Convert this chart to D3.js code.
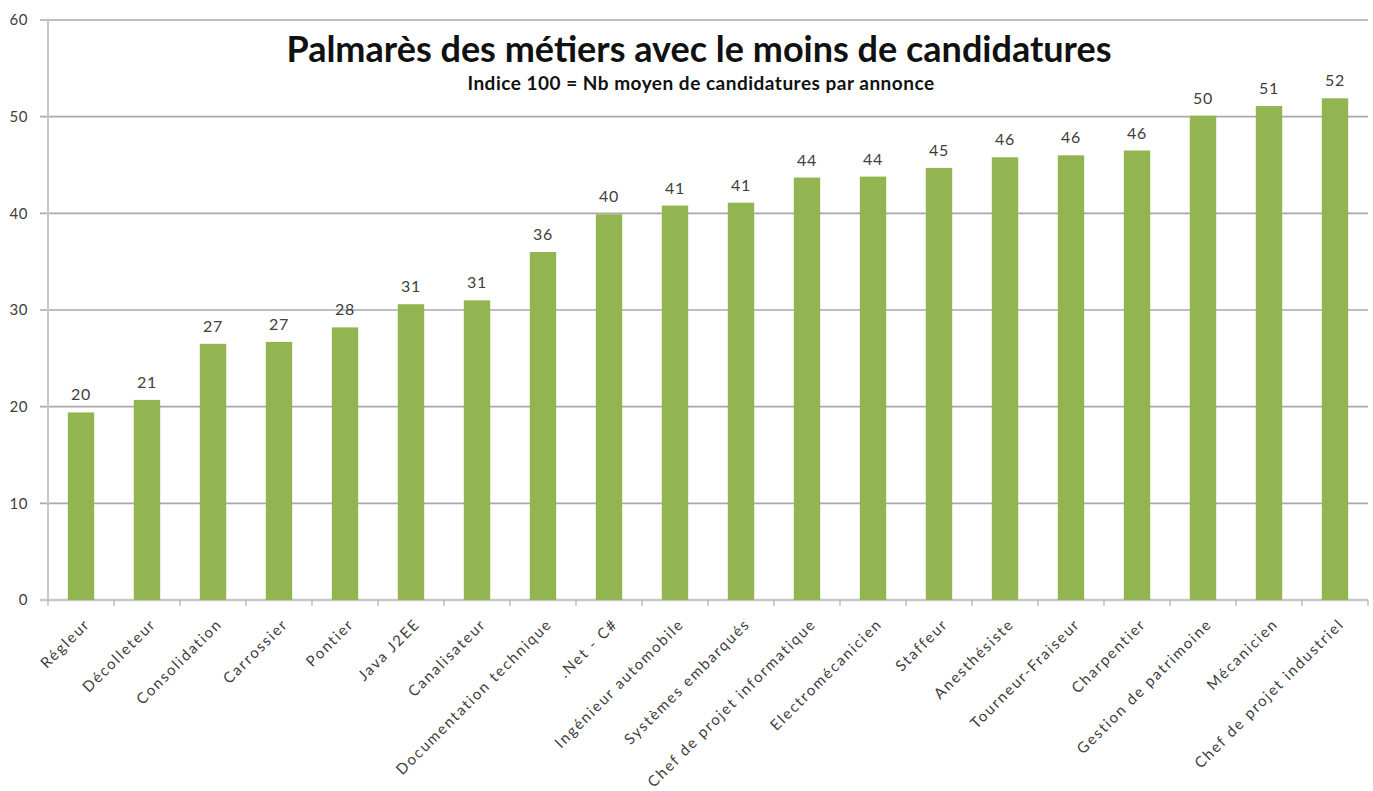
<!DOCTYPE html>
<html>
<head>
<meta charset="utf-8">
<script src="https://cdn.jsdelivr.net/npm/d3@7"></script>
<style>
  html, body { margin: 0; padding: 0; background: #fff; }
  svg { display: block; }
</style>
</head>
<body>
<svg id="chart" width="1373" height="791"></svg>
<script>
const categories = ["Régleur", "Décolleteur", "Consolidation", "Carrossier", "Pontier", "Java J2EE", "Canalisateur", "Documentation technique", ".Net - C#", "Ingénieur automobile", "Systèmes embarqués", "Chef de projet informatique", "Electromécanicien", "Staffeur", "Anesthésiste", "Tourneur-Fraiseur", "Charpentier", "Gestion de patrimoine", "Mécanicien", "Chef de projet industriel"];
const values = [19.4, 20.7, 26.5, 26.7, 28.2, 30.6, 31.0, 36.0, 39.9, 40.8, 41.1, 43.7, 43.8, 44.7, 45.8, 46.0, 46.5, 50.1, 51.1, 51.9];
const valueLabels = ["20", "21", "27", "27", "28", "31", "31", "36", "40", "41", "41", "44", "44", "45", "46", "46", "46", "50", "51", "52"];
const yTicks = [0, 10, 20, 30, 40, 50, 60];
const title = "Palmarès des métiers avec le moins de candidatures";
const subtitle = "Indice 100 = Nb moyen de candidatures par annonce";

(function () {
const svg = d3.select("#chart");
const pLeft = 48, pRight = 1368, pTop = 20, pBottom = 600;
const font = "Lato, 'Open Sans', sans-serif";

const x = d3.scaleBand().domain(categories).range([pLeft, pRight]).paddingInner(0.6).paddingOuter(0.3);
const y = d3.scaleLinear().domain([0, 60]).range([pBottom, pTop]);

svg.append("g").selectAll("line").data(yTicks).join("line")
  .attr("x1", pLeft - 8).attr("x2", pRight)
  .attr("y1", d => y(d)).attr("y2", d => y(d))
  .attr("stroke", d => d === 0 ? "#c8c8c8" : "#a9a9a9")
  .attr("stroke-width", d => d === 0 ? 2.5 : 1.6);

svg.append("line").attr("x1", pLeft).attr("x2", pLeft).attr("y1", y(60)).attr("y2", pBottom)
  .attr("stroke", "#c8c8c8").attr("stroke-width", 2);

svg.append("g").selectAll("text").data(yTicks).join("text")
  .attr("x", 28).attr("y", d => y(d)).attr("dy", "0.35em")
  .attr("text-anchor", "end")
  .attr("font-family", font).attr("font-size", 15).attr("letter-spacing", 0.5)
  .attr("fill", "#404040")
  .text(d => d);

const step = x.step();
const boundaries = d3.range(categories.length + 1).map(i => pLeft + i * step);
svg.append("g").selectAll("line").data(boundaries).join("line")
  .attr("x1", d => d).attr("x2", d => d)
  .attr("y1", pBottom).attr("y2", pBottom + 6)
  .attr("stroke", "#b0b0b0").attr("stroke-width", 1.2);

svg.append("g").selectAll("rect").data(categories).join("rect")
  .attr("x", d => x(d)).attr("width", x.bandwidth())
  .attr("y", (d, i) => y(values[i]))
  .attr("height", (d, i) => pBottom - y(values[i]))
  .attr("fill", "#92b552");

svg.append("g").selectAll("text").data(categories).join("text")
  .attr("x", d => x(d) + x.bandwidth() / 2)
  .attr("y", (d, i) => y(values[i]) - 12)
  .attr("text-anchor", "middle")
  .attr("font-family", font).attr("font-size", 16).attr("letter-spacing", 0.8)
  .attr("fill", "#404040")
  .text((d, i) => valueLabels[i]);

svg.append("g").selectAll("text").data(categories).join("text")
  .attr("transform", d => `translate(${x(d) + x.bandwidth() / 2 + 10},${pBottom + 25}) rotate(-45)`)
  .attr("text-anchor", "end")
  .attr("font-family", font).attr("font-size", 15).attr("letter-spacing", 1.8)
  .attr("fill", "#404040")
  .text(d => d);

svg.append("text").attr("x", 699).attr("y", 62).attr("text-anchor", "middle")
  .attr("font-family", font).attr("font-weight", "bold").attr("font-size", 36)
  .attr("fill", "#111").text(title);
svg.append("text").attr("x", 701).attr("y", 90).attr("text-anchor", "middle")
  .attr("font-family", font).attr("font-weight", "bold").attr("font-size", 19)
  .attr("letter-spacing", 0.5)
  .attr("fill", "#111").text(subtitle);
})();
</script>
</body>
</html>
